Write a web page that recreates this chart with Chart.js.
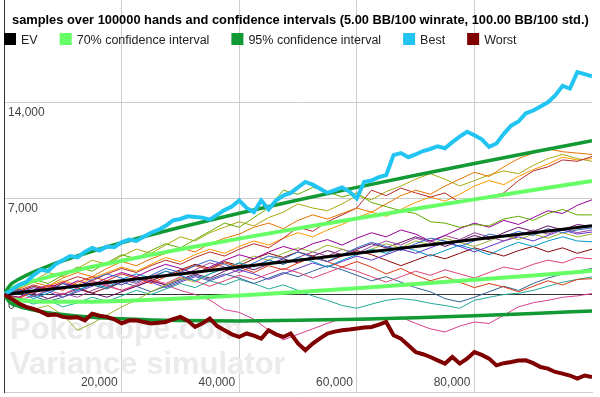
<!DOCTYPE html>
<html><head><meta charset="utf-8">
<script src="https://cdn.jsdelivr.net/npm/chart.js@4.4.1/dist/chart.umd.min.js"></script>
<style>html,body{margin:0;padding:0;background:#fff;overflow:hidden}canvas{display:block}</style>
</head><body>
<canvas id="c" width="600" height="397"></canvas>
<script>
const titleText = 'samples over 100000 hands and confidence intervals (5.00 BB/100 winrate, 100.00 BB/100 std.)';
const watermarkLines = ['Pokerdope.com', 'Variance simulator'];
const legendLabels = ['EV', '70% confidence interval', '95% confidence interval', 'Best', 'Worst'];
const legendColors = ['#000000', '#66ff66', '#119933', '#22c4f2', '#800000'];
const xTicks = [20000, 40000, 60000, 80000];
const xTickLabels = ['20,000', '40,000', '60,000', '80,000'];
const yTicks = [0, 7000, 14000];
const yTickLabels = ['0', '7,000', '14,000'];

const curveHands = [0,1000,2500,5000,7500,10000,15000,20000,25000,30000,40000,50000,60000,70000,80000,90000,100000];
const ev        = [0,50,125,250,375,500,750,1000,1250,1500,2000,2500,3000,3500,4000,4500,5000];
const ci70Upper = [0,378,643,983,1272,1536,2019,2465,2888,3294,4072,4817,5537,6241,6930,7608,8276];
const ci70Lower = [0,-278,-393,-483,-522,-536,-519,-465,-388,-294,-72,183,463,759,1070,1392,1724];
const ci95Upper = [0,670,1105,1636,2072,2460,3151,3772,4349,4895,5920,6883,7801,8686,9543,10380,11198];
const ci95Lower = [0,-570,-855,-1136,-1322,-1460,-1651,-1772,-1849,-1895,-1920,-1883,-1801,-1686,-1543,-1380,-1198];

const extremeHands = [0,1250,2500,3750,5000,6250,7500,8750,10000,11250,12500,13750,15000,16250,17500,18750,20000,21250,22500,23750,25000,26250,27500,28750,30000,31250,32500,33750,35000,36250,37500,38750,40000,41250,42500,43750,45000,46250,47500,48750,50000,51250,52500,53750,55000,56250,57500,58750,60000,61250,62500,63750,65000,66250,67500,68750,70000,71250,72500,73750,75000,76250,77500,78750,80000,81250,82500,83750,85000,86250,87500,88750,90000,91250,92500,93750,95000,96250,97500,98750,100000];
const best  = [0,300,700,900,1400,1800,1700,2200,2500,2800,2700,3100,3400,3200,3500,3450,3800,4000,3900,4200,4500,4700,5000,5400,5500,5700,5650,5600,5450,5800,6150,6400,6850,6300,6000,6850,6200,6850,7200,7400,7800,8200,8000,7700,7400,7600,7800,7500,7000,8200,8300,8550,8700,10150,10300,10000,10200,10450,10600,10800,10650,11100,11500,11850,11600,11300,10750,11000,11700,12300,12600,13200,13400,13700,14000,14500,15200,15000,16200,16050,15900];
const worst = [0,-300,-650,-900,-1050,-1250,-1500,-1450,-1630,-1700,-1650,-1880,-1400,-1550,-1630,-1800,-2100,-1900,-1870,-2000,-2110,-2050,-2000,-1800,-1630,-1900,-2360,-2100,-1750,-2300,-2600,-2900,-3090,-2840,-3000,-3210,-2600,-2900,-3090,-2840,-3570,-4060,-3570,-3200,-2840,-2700,-2600,-2550,-2480,-2400,-2360,-2200,-2000,-2970,-3210,-3700,-4190,-4350,-4550,-4800,-5030,-4550,-5030,-4670,-4190,-4400,-4670,-5160,-5000,-4910,-4800,-4790,-5000,-5280,-5400,-5640,-5760,-5900,-6130,-5900,-6010];

const hands = [0,2500,5000,7500,10000,12500,15000,17500,20000,22500,25000,27500,30000,32500,35000,37500,40000,42500,45000,47500,50000,52500,55000,57500,60000,62500,65000,67500,70000,72500,75000,77500,80000,82500,85000,87500,90000,92500,95000,97500,100000];
const sample01 = [0,350,-150,250,800,500,1100,1500,1200,900,1400,1900,1600,2100,2500,2200,1800,2300,2800,2600,3100,2700,2400,2900,3400,3800,3500,3200,3700,4100,3900,3500,3900,4400,4200,4600,4300,4800,4500,4700,4850];
const sample02 = [0,-300,200,600,300,900,1300,1000,1500,1200,800,1300,1700,2100,1800,2300,2000,1600,2100,1800,2300,2700,2400,2000,2400,2000,1500,1900,1400,1000,1300,900,500,800,550,200,600,1000,700,1100,1150];
const sample03 = [0,400,900,600,1200,1600,1300,1900,2400,2100,2600,3000,3400,3100,3700,4100,4400,4900,5200,4800,5400,5800,5500,5900,6300,6000,6600,7200,7600,7300,7900,8400,8900,8600,9300,9900,10300,10600,10400,10300,10200];
const sample04 = [0,500,1100,800,1400,2000,1700,2300,2900,2600,3200,3700,3400,4000,4600,5200,4900,5600,6300,7600,7300,7800,7500,7100,7400,6700,6400,6100,5900,5300,5200,4900,5100,5000,5500,5700,5400,5900,6200,5800,5800];
const sample05 = [0,-200,300,700,500,1000,700,1200,1600,1300,1800,2200,1900,1500,2000,2500,2900,2600,3100,3500,3200,3700,4000,3600,4100,4500,4200,4700,4400,3900,4300,4800,5200,4900,5400,5100,5600,6100,5900,6500,6900];
const sample06 = [0,200,-300,100,600,300,800,500,1100,1500,1200,1700,1400,1000,1500,1900,2300,2000,2500,2200,2700,2400,2000,2500,2900,3300,3000,3500,3200,2800,3200,3600,3300,2900,3400,3800,3500,3900,4200,3900,3840];
const sample07 = [0,-400,-100,300,0,500,900,600,300,700,1100,800,1300,1000,600,1000,1400,1100,1500,1900,1600,1200,1600,2000,1700,1300,900,1300,1700,1400,1800,1500,1200,1600,2000,1800,2200,2500,2300,2700,2600];
const sample08 = [0,-600,-1100,-800,-1500,-2600,-2100,-1500,-900,-400,200,700,1200,900,1500,1900,2300,2800,2500,3000,3400,3100,3600,3300,2900,3300,3700,3400,3900,3600,4100,3800,3500,3900,4300,4000,4400,4100,4500,4200,4400];
const sample09 = [0,300,700,400,900,1300,1000,1500,1900,1600,2100,2500,2200,2700,3100,2800,3300,3700,3400,4100,4900,4600,5300,5800,6300,7600,7200,7750,7400,7100,7400,6700,7000,7100,7400,8300,9000,9300,9800,9700,10050];
const sample10 = [0,300,-100,-500,-200,300,700,400,900,600,200,600,1000,1400,1100,1500,1200,800,1200,1600,1300,1700,2100,1800,1400,1000,1300,900,500,200,-300,-540,-200,200,600,300,800,1200,1500,1700,1900];
const sample11 = [0,-200,-600,-300,100,-200,300,700,1100,800,1300,1700,1400,1800,2300,2000,1600,2100,2500,2200,2700,3100,2800,3300,3000,3500,3900,3600,4100,3800,4300,4000,4500,4200,3900,4300,4700,4400,4800,4500,4700];
const sample12 = [0,-300,-700,-400,-900,-600,-200,-500,-100,300,0,400,800,500,1000,700,1100,800,400,700,300,-100,-420,-800,-1000,-700,-420,-300,-420,-640,-800,-1000,-420,-200,0,90,300,600,900,1100,1280];
const sample13 = [0,500,1000,1600,1300,1900,2500,2200,2800,3300,3000,3600,4200,3900,4500,4900,5300,5000,5600,6000,6600,6300,6100,6600,7200,6900,7500,7900,8400,8800,8400,7900,8300,8700,9000,8800,9400,9900,10200,9900,9700];
const sample14 = [0,100,500,200,-200,200,600,1000,700,1200,900,500,900,1300,1000,1400,1800,1500,1100,1500,1900,2300,2000,2400,2800,2500,2900,3300,3000,3400,3800,3500,3100,3500,3900,4200,3900,4300,4700,4400,4550];
const sample15 = [0,-200,200,600,1000,700,1200,1600,2000,1700,2200,2700,2400,2900,3300,3000,3500,3900,3600,4100,4500,4200,4700,5100,5600,6000,5700,6200,6700,7100,6800,7300,7900,8300,8000,8600,9100,9500,10000,9800,9900];
const sample16 = [0,200,600,300,800,500,100,500,900,1300,1000,1400,1800,2200,1900,2400,2100,2600,3000,2700,3100,2800,2400,2800,3200,2900,2500,2100,2500,2900,2600,3000,3400,3100,2800,3200,3500,3100,3400,3000,3300];
const sample17 = [0,300,100,-300,0,400,100,-200,200,600,1000,700,1100,1500,1200,1700,2100,1800,2200,2600,2300,2800,3200,2900,3300,3700,3400,3800,4200,3900,3500,3900,4300,4000,4500,4900,4600,5000,4700,5100,4950];
const sample18 = [0,400,100,500,900,600,1000,700,300,600,1000,700,300,0,-400,-1100,-1300,-1800,-2600,-3300,-2900,-2500,-2100,-1750,-1900,-1850,-1750,-1650,-2100,-2500,-2730,-2300,-2000,-2110,-1500,-900,-600,-420,-200,-100,70];

const samples = [sample01,sample02,sample03,sample04,sample05,sample06,sample07,sample08,sample09,sample10,sample11,sample12,sample13,sample14,sample15,sample16,sample17,sample18];
const sampleColors = ['#3366cc','#dc3912','#e67300','#66aa00','#990099','#0099c6','#dd4477','#99b32e','#b82e2e','#316395','#994499','#22aa99','#aaaa11','#6633cc','#ff9900','#8b0707','#651067','#d6408f'];

const FONT = '"Liberation Sans", Arial, sans-serif';
const pts = (xs, ys) => xs.map((h, i) => ({x: h, y: ys[i]}));

const datasets = [
  {label: 'Worst', data: pts(extremeHands, worst), borderColor: legendColors[4], borderWidth: 4},
  {label: 'Best', data: pts(extremeHands, best), borderColor: legendColors[3], borderWidth: 4},
  {label: 'EV', data: pts(curveHands, ev), borderColor: legendColors[0], borderWidth: 3, cubicInterpolationMode: 'monotone'},
  {label: '95% upper', data: pts(curveHands, ci95Upper), borderColor: legendColors[2], borderWidth: 3.5, cubicInterpolationMode: 'monotone'},
  {label: '95% lower', data: pts(curveHands, ci95Lower), borderColor: legendColors[2], borderWidth: 3.5, cubicInterpolationMode: 'monotone'},
  {label: '70% upper', data: pts(curveHands, ci70Upper), borderColor: legendColors[1], borderWidth: 4, cubicInterpolationMode: 'monotone'},
  {label: '70% lower', data: pts(curveHands, ci70Lower), borderColor: legendColors[1], borderWidth: 4, cubicInterpolationMode: 'monotone'}
];
samples.forEach((s, i) => datasets.push({label: 'sample ' + (i + 1), data: pts(hands, s), borderColor: sampleColors[i], borderWidth: 1}));

const overlay = {
  id: 'overlay',
  beforeDraw(chart) {
    const ctx = chart.ctx;
    ctx.save(); ctx.fillStyle = '#fff'; ctx.fillRect(0, 0, chart.width, chart.height); ctx.restore();
  },
  beforeDatasetsDraw(chart) {
    const {ctx, chartArea, scales: {x, y}} = chart;
    ctx.save();
    ctx.fillStyle = '#ebebeb';
    ctx.font = 'bold 31px ' + FONT;
    ctx.textAlign = 'left'; ctx.textBaseline = 'alphabetic';
    ctx.fillText(watermarkLines[0], 10, 339);
    ctx.fillText(watermarkLines[1], 10, 374);
    ctx.fillStyle = '#444';
    ctx.font = '12px ' + FONT;
    yTicks.forEach((v, i) => ctx.fillText(yTickLabels[i], chartArea.left + 4, y.getPixelForValue(v) + 14));
    ctx.textAlign = 'right';
    xTicks.forEach((v, i) => ctx.fillText(xTickLabels[i], x.getPixelForValue(v) - 4, chartArea.bottom - 6));
    ctx.restore();
  },
  afterDraw(chart) {
    const ctx = chart.ctx;
    ctx.save();
    ctx.textAlign = 'left'; ctx.textBaseline = 'alphabetic';
    ctx.fillStyle = '#000';
    ctx.font = 'bold 12.85px ' + FONT;
    ctx.fillText(titleText, 12, 24);
    ctx.font = '12.5px ' + FONT;
    let lx = 4;
    legendLabels.forEach((lab, i) => {
      ctx.fillStyle = legendColors[i];
      ctx.fillRect(lx, 33, 12, 12);
      ctx.fillStyle = '#222';
      ctx.fillText(lab, lx + 17, 44);
      lx += 17 + ctx.measureText(lab).width + 22;
    });
    ctx.restore();
  }
};

new Chart(document.getElementById('c'), {
  type: 'line',
  data: {datasets},
  options: {
    responsive: false,
    animation: false,
    devicePixelRatio: 1,
    layout: {padding: {left: 4, right: 8, top: 0, bottom: 5}},
    elements: {point: {radius: 0}, line: {tension: 0, fill: false}},
    plugins: {legend: {display: false}, title: {display: false}, tooltip: {enabled: false}},
    scales: {
      x: {
        type: 'linear', min: 0, max: 100000,
        afterBuildTicks: a => { a.ticks = xTicks.map(v => ({value: v})); },
        ticks: {display: false},
        grid: {color: '#cccccc', drawTicks: false},
        border: {color: '#cccccc'}
      },
      y: {
        type: 'linear', min: -7100, max: 21450,
        afterBuildTicks: a => { a.ticks = yTicks.map(v => ({value: v})); },
        ticks: {display: false},
        grid: {color: c => (c.tick && c.tick.value === 0) ? '#333333' : '#cccccc', drawTicks: false},
        border: {color: '#333333'}
      }
    }
  },
  plugins: [overlay]
});
</script>
</body></html>
